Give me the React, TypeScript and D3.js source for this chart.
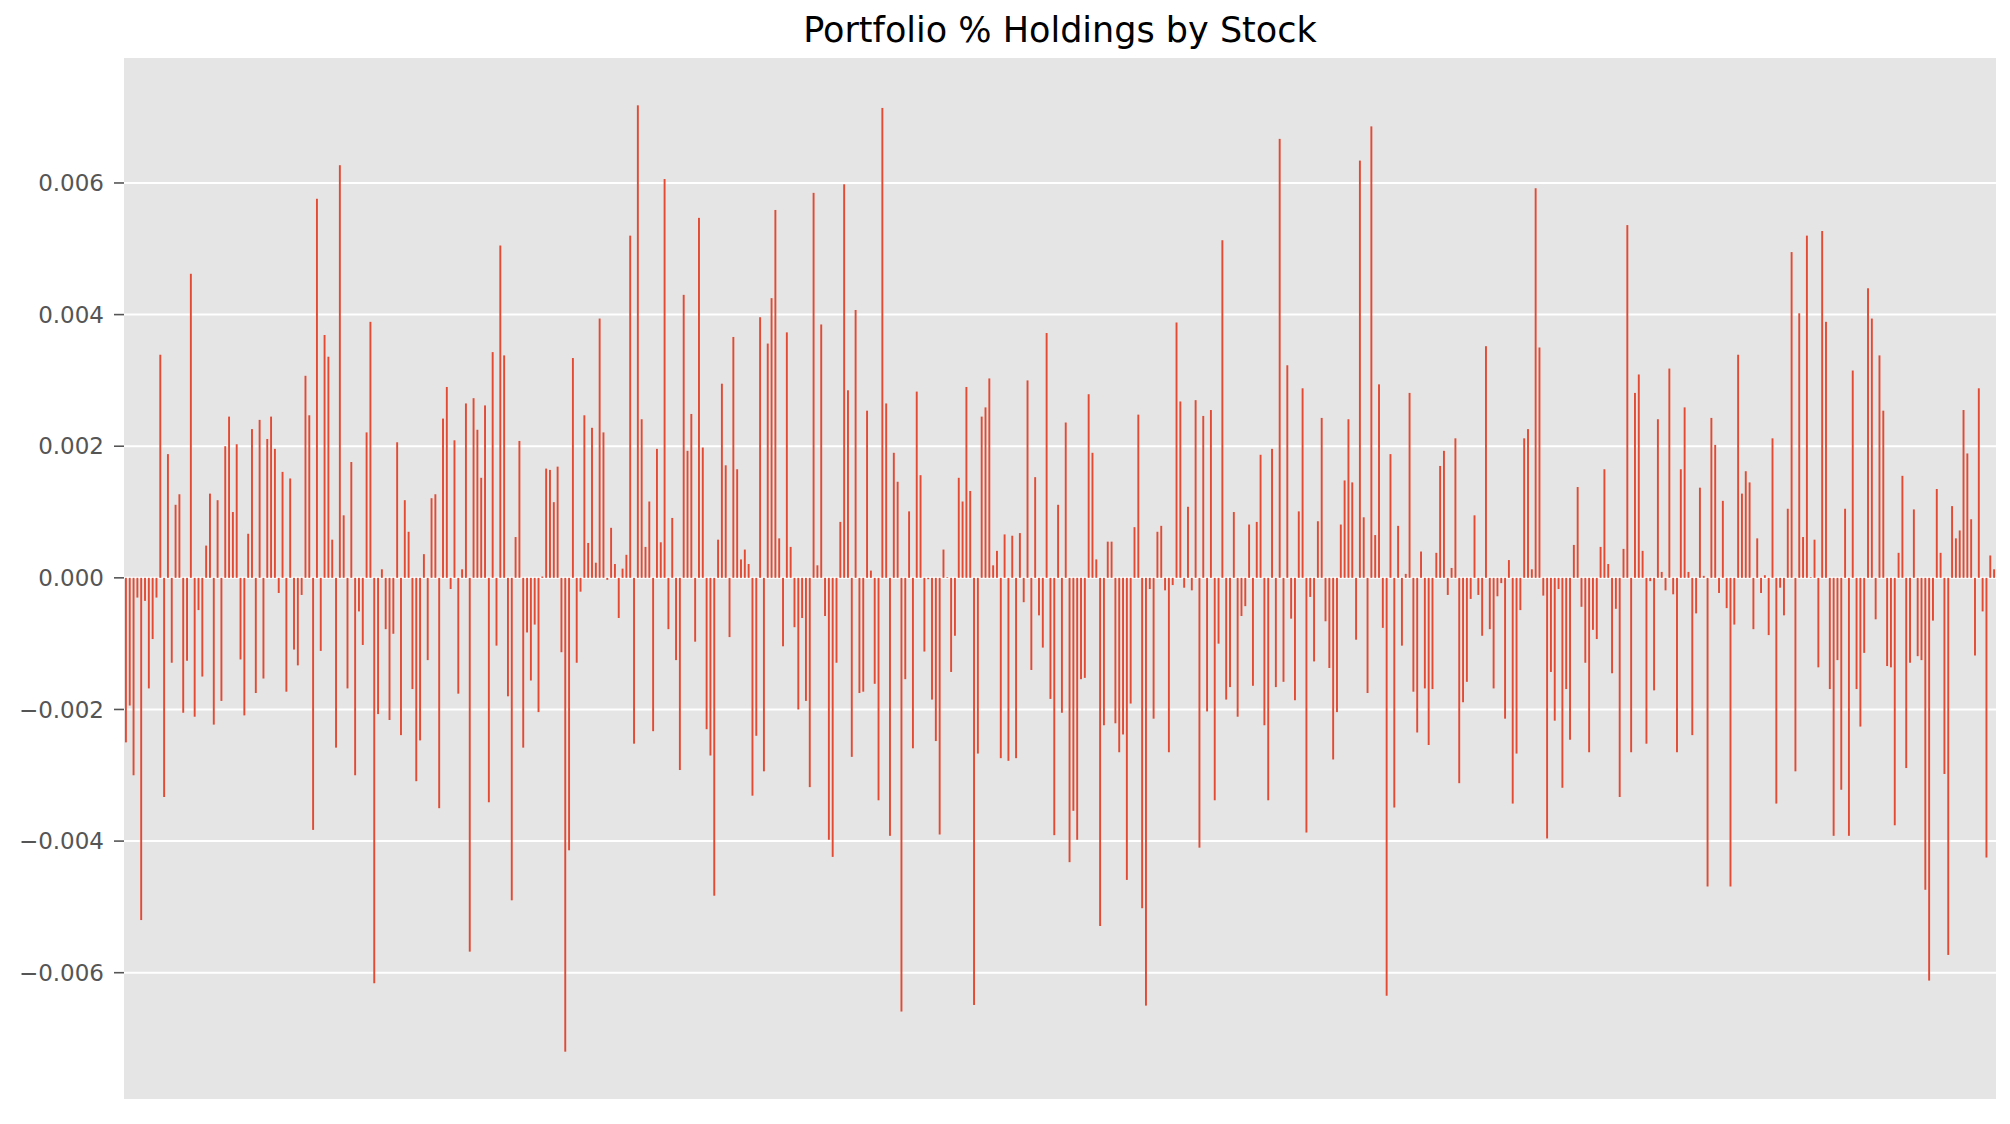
import React from "react";
import * as d3 from "d3";

const title = "Portfolio % Holdings by Stock";
const yTicks = [-0.006, -0.004, -0.002, 0, 0.002, 0.004, 0.006];

const holdingsA = [
  -0.0025, -0.00194, -0.003, -0.0003, -0.0052, -0.00035, -0.00168, -0.00093, -0.0003, 0.00339,
  -0.00333, 0.00188, -0.00129, 0.00111, 0.00127, -0.00205, -0.00126, 0.00462, -0.00211, -0.00049,
  -0.0015, 0.00049, 0.00128, -0.00223, 0.00118, -0.00187, 0.002, 0.00245, 0.001, 0.00203,
  -0.00124, -0.00209, 0.00067, 0.00226, -0.00175, 0.0024, -0.00153, 0.00211, 0.00245, 0.00196,
  -0.00023, 0.00161, -0.00173, 0.00151, -0.00109, -0.00133, -0.00026, 0.00307, 0.00247,
];
const holdingsB = [
  -0.00383, 0.00576, -0.00111, 0.00369, 0.00336, 0.00058, -0.00258, 0.00627, 0.00095, -0.00168,
  0.00176, -0.003, -0.00051, -0.00102, 0.00221, 0.00389, -0.00616, -0.00207, 0.00013, -0.00078,
  -0.00216, -0.00085, 0.00206, -0.00239, 0.00118, 0.0007, -0.00169, -0.00309, -0.00247, 0.00036,
  -0.00125, 0.00121, 0.00127, -0.0035, 0.00242, 0.0029, -0.00017, 0.00209, -0.00176, 0.00013,
  0.00265, -0.00568, 0.00273, 0.00225, 0.00152, 0.00262, -0.00341, 0.00343, -0.00103,
];
const holdingsC = [
  0.00505, 0.00338, -0.0018, -0.0049, 0.00062, 0.00208, -0.00258, -0.00083, -0.00156, -0.00071,
  -0.00204, 0.00002, 0.00166, 0.00164, 0.00115, 0.00169, -0.00113, -0.0072, -0.00414, 0.00334,
  -0.00129, -0.00021, 0.00247, 0.00053, 0.00228, 0.00023, 0.00394, 0.00221, -0.00003, 0.00076,
  0.00021, -0.00061, 0.00014, 0.00035, 0.0052, -0.00252, 0.00718, 0.00241, 0.00047, 0.00116,
  -0.00233, 0.00196, 0.00054, 0.00606, -0.00078, 0.00091, -0.00125, -0.00292,
];
const holdingsD = [
  0.0043, 0.00193, 0.00249, -0.00097, 0.00547, 0.00198, -0.0023, -0.0027, -0.00483, 0.00058,
  0.00295, 0.00171, -0.0009, 0.00366, 0.00165, 0.00028, 0.00043, 0.00021, -0.00331, -0.0024,
  0.00396, -0.00294, 0.00356, 0.00425, 0.00559, 0.0006, -0.00104, 0.00373, 0.00047, -0.00075,
  -0.002, -0.00061, -0.00187, -0.00318, 0.00585, 0.00019, 0.00385, -0.00058, -0.00398, -0.00424,
  -0.00129, 0.00085, 0.00598, 0.00285, -0.00272, 0.00407, -0.00175, -0.00173,
];
const holdingsE = [
  0.00254, 0.00011, -0.00161, -0.00338, 0.00714, 0.00265, -0.00392, 0.0019, 0.00146, -0.00659,
  -0.00154, 0.00101, -0.00259, 0.00283, 0.00156, -0.00112, -0.00002, -0.00185, -0.00248, -0.0039,
  0.00043, 0.00001, -0.00143, -0.00088, 0.00152, 0.00116, 0.0029, 0.00132, -0.00649, -0.00267,
  0.00245, 0.00259, 0.00303, 0.00019, 0.00041, -0.00274, 0.00066, -0.00278, 0.00064, -0.00274,
  0.00068, -0.00037, 0.003, -0.0014, 0.00153, -0.00057, -0.00106, 0.00372, -0.00184,
];
const holdingsF = [
  -0.00391, 0.00111, -0.00205, 0.00236, -0.00432, -0.00354, -0.00398, -0.00154, -0.00152, 0.00279,
  0.0019, 0.00028, -0.00529, -0.00224, 0.00055, 0.00055, -0.00221, -0.00265, -0.00238, -0.00459,
  -0.00191, 0.00077, 0.00248, -0.00502, -0.0065, -0.00017, -0.00214, 0.0007, 0.00079, -0.00019,
  -0.00265, -0.00011, 0.00388, 0.00268, -0.00015, 0.00108, -0.00019, 0.0027, -0.0041, 0.00246,
  -0.00203, 0.00255, -0.00338, -0.001, 0.00513, -0.00185, -0.00166, 0.001,
];
const holdingsG = [
  -0.00211, -0.00058, -0.00043, 0.00081, -0.00164, 0.00085, 0.00187, -0.00224, -0.00338, 0.00196,
  -0.00166, 0.00667, -0.00158, 0.00323, -0.00062, -0.00186, 0.00101, 0.00288, -0.00387, -0.00029,
  -0.00127, 0.00086, 0.00243, -0.00066, -0.00137, -0.00276, -0.00204, 0.00081, 0.00148, 0.00241,
  0.00145, -0.00094, 0.00634, 0.00092, -0.00175, 0.00686, 0.00065, 0.00294, -0.00076, -0.00635,
  0.00188, -0.00349, 0.00079, -0.00103, 0.00006, 0.00281, -0.00173, -0.00235,
];
const holdingsH = [
  0.0004, -0.00168, -0.00254, -0.00169, 0.00038, 0.0017, 0.00193, -0.00026, 0.00015, 0.00212,
  -0.00312, -0.00189, -0.00158, -0.00032, 0.00095, -0.00026, -0.00088, 0.00352, -0.00078, -0.00168,
  -0.00028, -0.00008, -0.00214, 0.00027, -0.00343, -0.00267, -0.00049, 0.00212, 0.00226, 0.00013,
  0.00592, 0.0035, -0.00027, -0.00396, -0.00143, -0.00217, -0.00017, -0.00319, -0.00169, -0.00246,
  0.0005, 0.00138, -0.00044, -0.00129, -0.00265, -0.00079, -0.00093, 0.00047, 0.00165,
];
const holdingsI = [
  0.00021, -0.00145, -0.00047, -0.00333, 0.00044, 0.00536, -0.00265, 0.00281, 0.00309, 0.00041,
  -0.00252, -0.00005, -0.00171, 0.00241, 0.00009, -0.00019, 0.00318, -0.00025, -0.00265, 0.00165,
  0.00259, 0.00009, -0.00239, -0.00054, 0.00137, 0.00003, -0.00469, 0.00243, 0.00202, -0.00023,
  0.00117, -0.00046, -0.00469, -0.00071, 0.00339, 0.00128, 0.00162, 0.00145, -0.00078, 0.0006,
  -0.00023, 0.00004, -0.00087, 0.00212, -0.00343, -0.00015, -0.00057, 0.00105,
];
const holdingsJ = [
  0.00495, -0.00294, 0.00402, 0.00062, 0.0052, 0.00001, 0.00058, -0.00136, 0.00527, 0.00389,
  -0.00169, -0.00392, -0.00125, -0.00322, 0.00105, -0.00392, 0.00315, -0.00169, -0.00226, -0.00114,
  0.0044, 0.00394, -0.00063, 0.00338, 0.00254, -0.00134, -0.00136, -0.00376, 0.00038, 0.00155,
  -0.00289, -0.00129, 0.00104, -0.00119, -0.00125, -0.00474, -0.00612, -0.00065, 0.00135, 0.00038,
  -0.00298, -0.00573, 0.00109, 0.0006, 0.00072, 0.00255, 0.00189, 0.00089, -0.00118, 0.00288,
  -0.00051, -0.00425, 0.00034, 0.00013,
];

const holdings = [
  ...holdingsA, ...holdingsB, ...holdingsC, ...holdingsD, ...holdingsE,
  ...holdingsF, ...holdingsG, ...holdingsH, ...holdingsI, ...holdingsJ,
];
const stocks = holdings.map((_, i) => `S${i}`);

const W = 2010;
const H = 1124;
const plot = { left: 124, right: 1996, top: 58, bottom: 1099 };

export default function App() {
  const [lo, hi] = d3.extent(holdings) as [number, number];
  const pad = (hi - lo) * 0.05;
  const y = d3.scaleLinear().domain([lo - pad, hi + pad]).range([plot.bottom, plot.top]);
  const x = d3
    .scaleBand<string>()
    .domain(stocks)
    .range([plot.left, plot.right])
    .paddingInner(0.5)
    .paddingOuter(0.25);
  const fmt = (v: number) => (v < 0 ? "\u2212" : "") + d3.format(".3f")(Math.abs(v));

  return (
    <svg
      width={W}
      height={H}
      style={{ position: "absolute", left: 0, top: 0, background: "#fff" }}
      fontFamily="'DejaVu Sans', sans-serif"
    >
      <rect x={plot.left} y={plot.top} width={plot.right - plot.left} height={plot.bottom - plot.top} fill="#E5E5E5" />
      {yTicks.map((t) => (
        <line key={"g" + t} x1={plot.left} x2={plot.right} y1={y(t)} y2={y(t)} stroke="#fff" strokeWidth={2} />
      ))}
      {holdings.map((v, i) => {
        const y0 = y(0);
        const yv = y(v);
        return (
          <rect
            key={i}
            x={x(stocks[i])}
            width={x.bandwidth()}
            y={Math.min(y0, yv)}
            height={Math.abs(yv - y0)}
            fill="#E24A33"
          />
        );
      })}
      {yTicks.map((t) => (
        <g key={"t" + t}>
          <line x1={114} x2={plot.left} y1={y(t)} y2={y(t)} stroke="#555555" strokeWidth={1.6} />
          <text x={104} y={y(t)} dy="0.36em" textAnchor="end" fontSize={23} fill="#555555">
            {fmt(t)}
          </text>
        </g>
      ))}
      <text x={(plot.left + plot.right) / 2} y={42} textAnchor="middle" fontSize={35} fill="#000">
        {title}
      </text>
    </svg>
  );
}
